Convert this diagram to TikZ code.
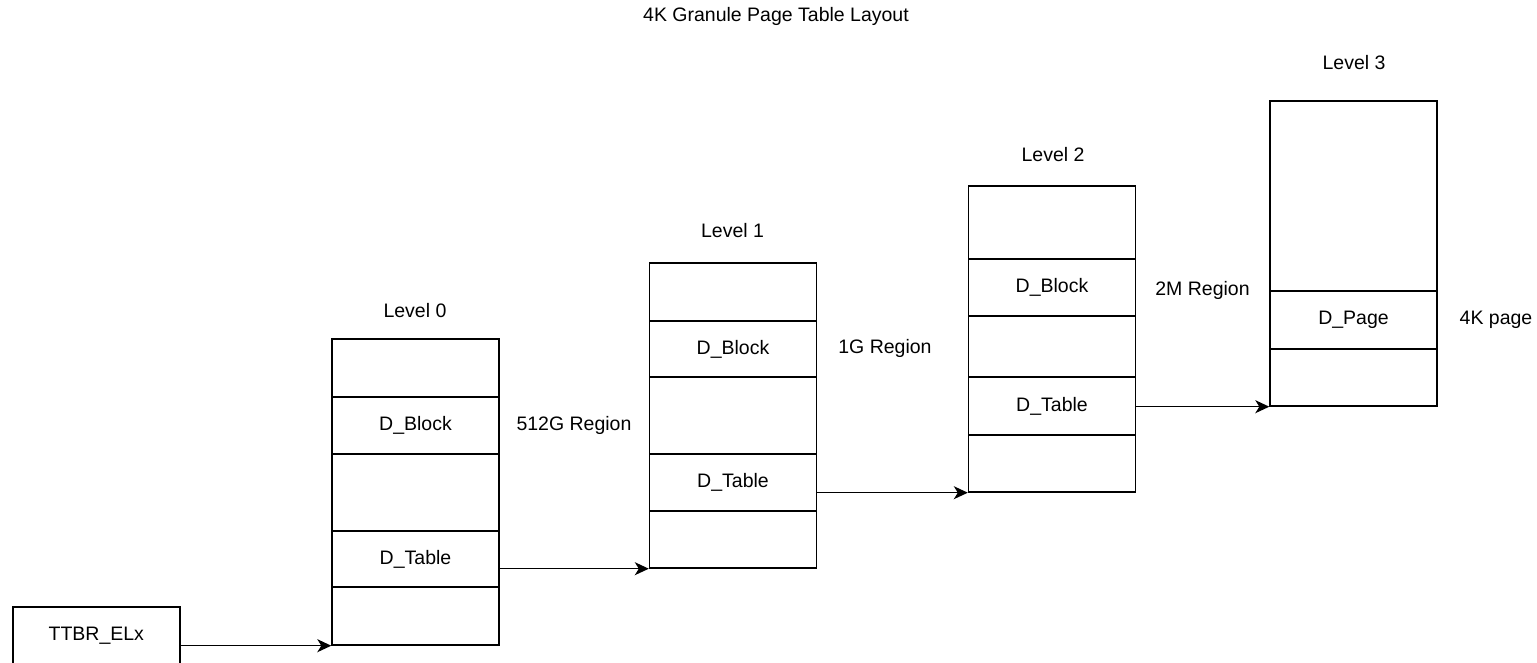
\documentclass[tikz,border=0pt]{standalone}
\usepackage{fontspec}
\setmainfont{Liberation Sans}
\usetikzlibrary{arrows.meta,calc}
\tikzset{
  cell/.style={draw, line width=1.4pt, inner sep=0pt, minimum width=167pt, font=\fontsize{19.5}{23}\selectfont},
  lbl/.style={inner sep=0pt, font=\fontsize{19.5}{23}\selectfont},
  arr/.style={line width=1.4pt, -{Stealth[length=14pt,width=13pt,inset=4pt]}}
}
\begin{document}
\begin{tikzpicture}[x=1pt,y=-1pt]
\useasboundingbox (0,0) rectangle (1537,662);
\clip (0,0) rectangle (1537,662);
% title
\node[lbl] (title) at (776,16) {4K Granule Page Table Layout};
% TTBR
\node[cell, minimum height=57pt] (ttbr) at (96.3,635.5) {TTBR\_ELx};
% Level 0
\node[lbl] (lv0) at (415,311) {Level 0};
\node[cell, minimum height=58pt] (l0a) at (415.5,368) {};
\node[cell, minimum height=57pt] (l0b) at (415.5,425.5) {D\_Block};
\node[cell, minimum height=77pt] (l0c) at (415.5,492.5) {};
\node[cell, minimum height=56pt] (l0d) at (415.5,559) {D\_Table};
\node[cell, minimum height=58pt] (l0e) at (415.5,616) {};
% Level 1
\node[lbl] (lv1) at (732.5,231) {Level 1};
\node[cell, minimum height=58pt] (l1a) at (733,292) {};
\node[cell, minimum height=56pt] (l1b) at (733,349) {D\_Block};
\node[cell, minimum height=77pt] (l1c) at (733,415.5) {};
\node[cell, minimum height=57pt] (l1d) at (733,482.5) {D\_Table};
\node[cell, minimum height=57pt] (l1e) at (733,539.5) {};
% Level 2
\node[lbl] (lv2) at (1053,155) {Level 2};
\node[cell, minimum height=73pt] (l2a) at (1052,222.5) {};
\node[cell, minimum height=57pt] (l2b) at (1052,287.5) {D\_Block};
\node[cell, minimum height=61pt] (l2c) at (1052,346.5) {};
\node[cell, minimum height=58pt] (l2d) at (1052,406) {D\_Table};
\node[cell, minimum height=57pt] (l2e) at (1052,463.5) {};
% Level 3
\node[lbl] (lv3) at (1354,63) {Level 3};
\node[cell, minimum height=190pt] (l3a) at (1353.5,196) {};
\node[cell, minimum height=58pt] (l3b) at (1353.5,320) {D\_Page};
\node[cell, minimum height=57pt] (l3c) at (1353.5,377.5) {};
% region labels
\node[lbl] (r0) at (574,425) {512G Region};
\node[lbl] (r1) at (885,348) {1G Region};
\node[lbl] (r2) at (1202.5,290) {2M Region};
\node[lbl] (r3) at (1496,320) {4K page};
% arrows
\draw[arr] (ttbr.east |- l0e.south west) -- (l0e.south west);
\draw[arr] (l0d.east |- l1e.south west) -- (l1e.south west);
\draw[arr] (l1d.east |- l2e.south west) -- (l2e.south west);
\draw[arr] (l2d.east |- l3c.south west) -- (l3c.south west);
\end{tikzpicture}
\end{document}
